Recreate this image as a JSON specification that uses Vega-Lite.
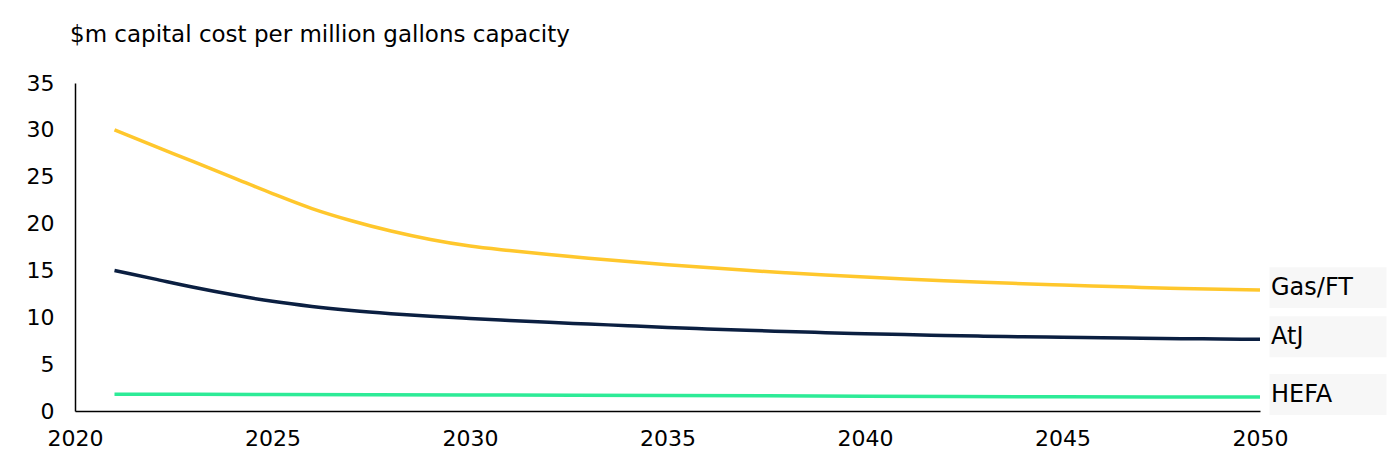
{
  "$schema": "https://vega.github.io/schema/vega-lite/v6.json",
  "width": 1185,
  "height": 328,
  "autosize": {"type": "none"},
  "padding": {"left": 75, "top": 83, "right": 138, "bottom": 55},
  "background": "white",
  "config": {"view": {"stroke": null}, "font": "DejaVu Sans"},
  "title": {
    "text": "$m capital cost per million gallons capacity",
    "anchor": "start",
    "frame": "group",
    "dx": -5,
    "offset": 25,
    "font": "DejaVu Sans",
    "fontSize": 23,
    "fontWeight": "normal",
    "color": "#000000"
  },
  "data": {
    "values": [
      {"year": 2021, "series": "Gas/FT", "value": 30.0},
      {"year": 2022, "series": "Gas/FT", "value": 28.3},
      {"year": 2023, "series": "Gas/FT", "value": 26.6},
      {"year": 2024, "series": "Gas/FT", "value": 24.9},
      {"year": 2025, "series": "Gas/FT", "value": 23.2},
      {"year": 2026, "series": "Gas/FT", "value": 21.6},
      {"year": 2027, "series": "Gas/FT", "value": 20.3},
      {"year": 2028, "series": "Gas/FT", "value": 19.2},
      {"year": 2029, "series": "Gas/FT", "value": 18.3},
      {"year": 2030, "series": "Gas/FT", "value": 17.6},
      {"year": 2031, "series": "Gas/FT", "value": 17.12},
      {"year": 2032, "series": "Gas/FT", "value": 16.7},
      {"year": 2033, "series": "Gas/FT", "value": 16.31},
      {"year": 2034, "series": "Gas/FT", "value": 15.95},
      {"year": 2035, "series": "Gas/FT", "value": 15.61},
      {"year": 2036, "series": "Gas/FT", "value": 15.3},
      {"year": 2037, "series": "Gas/FT", "value": 15.01},
      {"year": 2038, "series": "Gas/FT", "value": 14.75},
      {"year": 2039, "series": "Gas/FT", "value": 14.51},
      {"year": 2040, "series": "Gas/FT", "value": 14.29},
      {"year": 2041, "series": "Gas/FT", "value": 14.09},
      {"year": 2042, "series": "Gas/FT", "value": 13.9},
      {"year": 2043, "series": "Gas/FT", "value": 13.73},
      {"year": 2044, "series": "Gas/FT", "value": 13.58},
      {"year": 2045, "series": "Gas/FT", "value": 13.44},
      {"year": 2046, "series": "Gas/FT", "value": 13.31},
      {"year": 2047, "series": "Gas/FT", "value": 13.19},
      {"year": 2048, "series": "Gas/FT", "value": 13.08},
      {"year": 2049, "series": "Gas/FT", "value": 12.98},
      {"year": 2050, "series": "Gas/FT", "value": 12.9},
      {"year": 2021, "series": "AtJ", "value": 15.0},
      {"year": 2022, "series": "AtJ", "value": 14.1},
      {"year": 2023, "series": "AtJ", "value": 13.2},
      {"year": 2024, "series": "AtJ", "value": 12.4},
      {"year": 2025, "series": "AtJ", "value": 11.7},
      {"year": 2026, "series": "AtJ", "value": 11.15},
      {"year": 2027, "series": "AtJ", "value": 10.72},
      {"year": 2028, "series": "AtJ", "value": 10.38},
      {"year": 2029, "series": "AtJ", "value": 10.1},
      {"year": 2030, "series": "AtJ", "value": 9.87},
      {"year": 2031, "series": "AtJ", "value": 9.66},
      {"year": 2032, "series": "AtJ", "value": 9.46},
      {"year": 2033, "series": "AtJ", "value": 9.28},
      {"year": 2034, "series": "AtJ", "value": 9.1},
      {"year": 2035, "series": "AtJ", "value": 8.92},
      {"year": 2036, "series": "AtJ", "value": 8.76},
      {"year": 2037, "series": "AtJ", "value": 8.61},
      {"year": 2038, "series": "AtJ", "value": 8.48},
      {"year": 2039, "series": "AtJ", "value": 8.36},
      {"year": 2040, "series": "AtJ", "value": 8.25},
      {"year": 2041, "series": "AtJ", "value": 8.15},
      {"year": 2042, "series": "AtJ", "value": 8.06},
      {"year": 2043, "series": "AtJ", "value": 7.98},
      {"year": 2044, "series": "AtJ", "value": 7.92},
      {"year": 2045, "series": "AtJ", "value": 7.86},
      {"year": 2046, "series": "AtJ", "value": 7.81},
      {"year": 2047, "series": "AtJ", "value": 7.76},
      {"year": 2048, "series": "AtJ", "value": 7.72},
      {"year": 2049, "series": "AtJ", "value": 7.68},
      {"year": 2050, "series": "AtJ", "value": 7.65},
      {"year": 2021, "series": "HEFA", "value": 1.8},
      {"year": 2025, "series": "HEFA", "value": 1.76},
      {"year": 2030, "series": "HEFA", "value": 1.71},
      {"year": 2035, "series": "HEFA", "value": 1.65},
      {"year": 2040, "series": "HEFA", "value": 1.58},
      {"year": 2045, "series": "HEFA", "value": 1.52},
      {"year": 2050, "series": "HEFA", "value": 1.5}
    ]
  },
  "encoding": {
    "x": {
      "field": "year",
      "type": "quantitative",
      "scale": {"domain": [2020, 2050], "nice": false, "zero": false},
      "axis": {
        "title": null,
        "values": [2020, 2025, 2030, 2035, 2040, 2045, 2050],
        "format": "d",
        "grid": false,
        "ticks": false,
        "domainColor": "#000000",
        "domainWidth": 1.5,
        "labelFont": "DejaVu Sans",
        "labelFontSize": 22,
        "labelColor": "#000000",
        "labelPadding": 17,
        "labelFlush": false
      }
    },
    "y": {
      "field": "value",
      "type": "quantitative",
      "scale": {"domain": [0, 35], "nice": false},
      "axis": {
        "title": null,
        "values": [0, 5, 10, 15, 20, 25, 30, 35],
        "grid": false,
        "ticks": false,
        "domainColor": "#000000",
        "domainWidth": 1.5,
        "labelFont": "DejaVu Sans",
        "labelFontSize": 22,
        "labelColor": "#000000",
        "labelPadding": 21
      }
    }
  },
  "layer": [
    {
      "transform": [{"filter": "datum.year == 2050"}],
      "mark": {
        "type": "point",
        "shape": "M-1,-0.35L1,-0.35L1,0.35L-1,0.35Z",
        "size": 13689,
        "filled": true,
        "fill": "#F7F7F7",
        "opacity": 1,
        "strokeWidth": 0,
        "xOffset": 68,
        "yOffset": -2.5
      }
    },
    {
      "mark": {"type": "line", "strokeWidth": 3.5, "interpolate": "monotone"},
      "encoding": {
        "color": {
          "field": "series",
          "type": "nominal",
          "scale": {"domain": ["Gas/FT", "AtJ", "HEFA"], "range": ["#FFC72C", "#0B1F41", "#2DEB97"]},
          "legend": null
        }
      }
    },
    {
      "transform": [{"filter": "datum.year == 2050"}],
      "mark": {
        "type": "text",
        "align": "left",
        "baseline": "middle",
        "dx": 11,
        "dy": -2,
        "font": "DejaVu Sans",
        "fontSize": 24,
        "color": "#000000"
      },
      "encoding": {"text": {"field": "series"}}
    }
  ]
}
